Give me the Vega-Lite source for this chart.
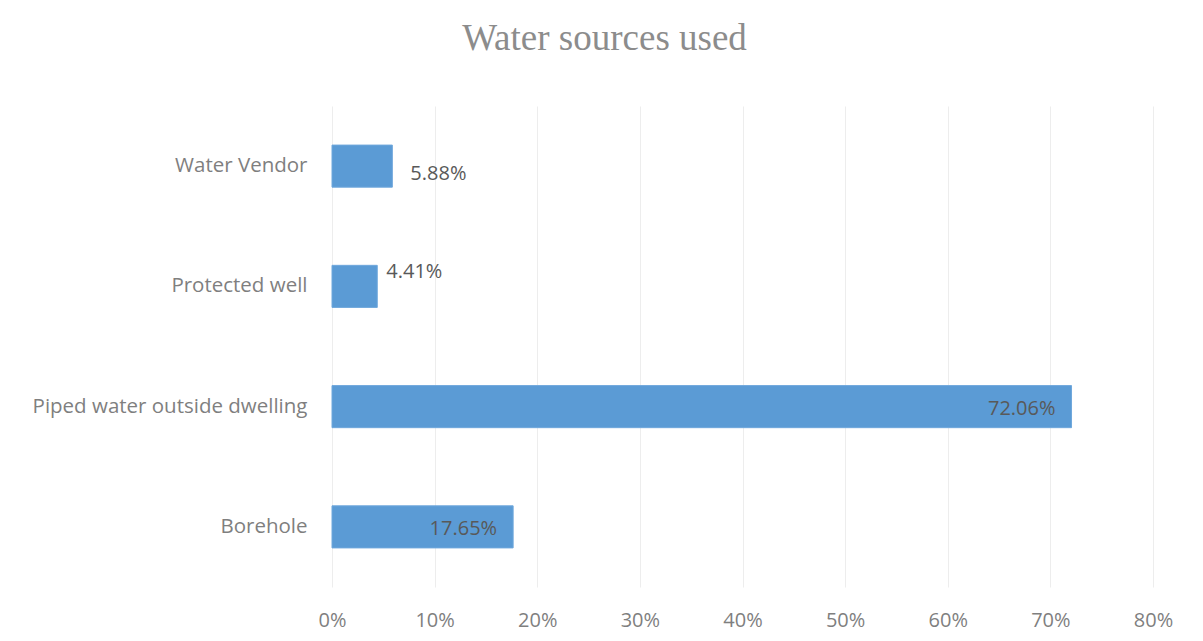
{
  "$schema": "https://vega.github.io/schema/vega-lite/v6.json",
  "autosize": "none",
  "width": 821,
  "height": 481,
  "padding": {"left": 332, "top": 106, "right": 50, "bottom": 54},
  "background": "white",
  "title": {
    "text": "Water sources used",
    "font": "Liberation Serif",
    "fontSize": 37,
    "fontWeight": "normal",
    "color": "#8c8c8c",
    "anchor": "middle",
    "dx": -138,
    "offset": 48
  },
  "data": {
    "values": [
      {"source": "Water Vendor", "pct": 0.0588, "label": "5.88%"},
      {"source": "Protected well", "pct": 0.0441, "label": "4.41%"},
      {"source": "Piped water outside dwelling", "pct": 0.7206, "label": "72.06%"},
      {"source": "Borehole", "pct": 0.1765, "label": "17.65%"}
    ]
  },
  "encoding": {
    "y": {
      "field": "source",
      "type": "nominal",
      "sort": null,
      "title": null,
      "scale": {"paddingInner": 0.65, "paddingOuter": 0.325},
      "axis": {
        "domain": false,
        "ticks": false,
        "labelFont": "Open Sans",
        "labelFontSize": 20.5,
        "labelColor": "#7f7f7f",
        "labelPadding": 25,
        "labelLimit": 400
      }
    },
    "x": {
      "field": "pct",
      "type": "quantitative",
      "title": null,
      "scale": {"domain": [0, 0.8], "nice": false},
      "axis": {
        "format": ".0%",
        "values": [0, 0.1, 0.2, 0.3, 0.4, 0.5, 0.6, 0.7, 0.8],
        "domain": false,
        "ticks": false,
        "grid": true,
        "gridColor": "#ededed",
        "gridWidth": 1,
        "labelFlush": false,
        "labelFont": "Open Sans",
        "labelFontSize": 20,
        "labelColor": "#7f7f7f",
        "labelPadding": 23
      }
    }
  },
  "layer": [
    {"mark": {"type": "bar", "color": "#5b9bd5", "stroke": "#6fa8dc", "strokeWidth": 1}},
    {
      "transform": [{"filter": "datum.source === 'Water Vendor'"}],
      "mark": {"type": "text", "align": "left", "dx": 18, "dy": 8, "font": "Open Sans", "fontSize": 20, "color": "#595959"},
      "encoding": {"text": {"field": "label"}}
    },
    {
      "transform": [{"filter": "datum.source === 'Protected well'"}],
      "mark": {"type": "text", "align": "left", "dx": 9, "dy": -14, "font": "Open Sans", "fontSize": 20, "color": "#595959"},
      "encoding": {"text": {"field": "label"}}
    },
    {
      "transform": [{"filter": "datum.source === 'Piped water outside dwelling' || datum.source === 'Borehole'"}],
      "mark": {"type": "text", "align": "right", "dx": -16, "dy": 2, "font": "Open Sans", "fontSize": 20, "color": "#595959"},
      "encoding": {"text": {"field": "label"}}
    }
  ],
  "config": {"view": {"stroke": null}}
}
